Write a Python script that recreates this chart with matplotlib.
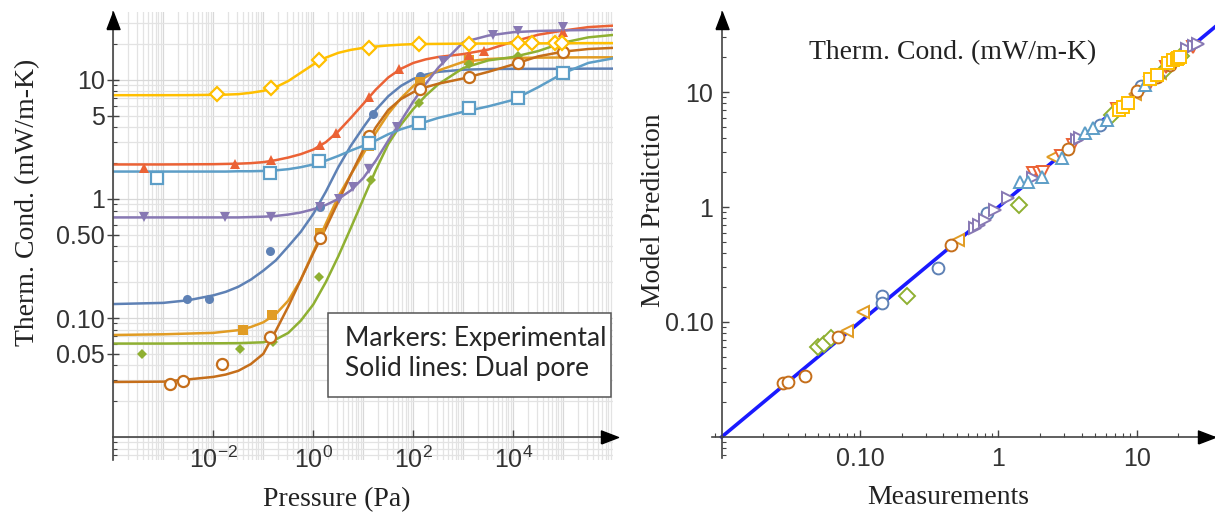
import numpy as np
import matplotlib.pyplot as plt
from matplotlib.patches import Rectangle
from matplotlib.ticker import FixedLocator, NullLocator, LogLocator, NullFormatter

plt.rcParams['mathtext.fontset'] = 'custom'
plt.rcParams['mathtext.rm'] = 'Liberation Sans'
plt.rcParams['mathtext.default'] = 'regular'

# series colours
c_blue = '#5E81B5'
c_orange = '#E19C24'
c_green = '#8FB032'
c_red = '#EB6235'
c_purple = '#8778B3'
c_brown = '#C56E1A'
c_lblue = '#5D9EC7'
c_yellow = '#FFBF00'

# experimental points: pressure (Pa) and conductivity (mW/m-K)
p_blue = [2.95e-3, 8.3e-3, 0.135, 1.35, 15.8, 135]
k_blue = [0.144, 0.144, 0.368, 0.85, 5.15, 10.8]
p_orange = [0.039, 0.148, 1.35, 13.2, 135, 1320]
k_orange = [0.080, 0.105, 0.52, 2.8, 9.7, 14.7]
p_green = [3.7e-4, 0.034, 0.155, 1.32, 14.1, 129, 1320, 1.26e4, 1.0e5]
k_green = [0.050, 0.0546, 0.0625, 0.22, 1.44, 6.37, 13.6, 15.9, 20.9]
p_red = [4.1e-4, 0.027, 0.141, 1.35, 2.8, 13.2, 52, 1320, 2630, 1.0e5]
k_red = [1.81, 1.96, 2.13, 2.84, 3.56, 7.24, 12.4, 16.2, 17.6, 25.5]
p_purple = [4.1e-4, 0.017, 0.141, 1.35, 3.2, 6.3, 13.2, 47, 390, 3900, 1.26e4, 1.0e5]
k_purple = [0.71, 0.70, 0.71, 0.86, 1.0, 1.25, 1.78, 4.0, 14.5, 23.9, 26.0, 27.7]
p_brown = [1.35e-3, 2.45e-3, 0.0148, 0.135, 1.35, 13.2, 135, 1320, 1.26e4, 1.0e5]
k_brown = [0.0277, 0.0296, 0.0408, 0.0697, 0.468, 3.38, 8.36, 10.5, 14.0, 17.3]
p_lblue = [7.4e-4, 0.135, 1.32, 13.2, 129, 1320, 1.26e4, 1.0e5]
k_lblue = [1.49, 1.66, 2.10, 2.94, 4.33, 5.78, 7.0, 11.5]
p_yellow = [0.012, 0.141, 1.32, 13.2, 129, 1320, 1.26e4, 2.4e4, 6.8e4, 9.5e4]
k_yellow = [7.6, 8.5, 14.6, 18.7, 20.1, 20.1, 20.3, 20.3, 20.4, 20.6]

# dual pore model curves, sampled at these pressure exponents
p_model_exp = [-4, -3, -2.5, -2, -1.75, -1.5, -1.25, -1, -0.75, -0.5,
               -0.25, 0, 0.25, 0.5, 0.75, 1, 1.25, 1.5, 1.75, 2,
               2.25, 2.5, 3, 3.5, 4, 4.5, 5, 5.5, 6]
model_blue = [0.131, 0.134, 0.141, 0.155, 0.166, 0.183, 0.210, 0.250, 0.305, 0.40,
              0.53, 0.75, 1.15, 1.85, 2.8, 4.0, 5.6, 7.3, 8.9, 10.2,
              11.1, 11.7, 12.2, 12.35, 12.4, 12.4, 12.4, 12.45, 12.45]
model_orange = [0.072, 0.073, 0.074, 0.075, 0.077, 0.079, 0.084, 0.092, 0.108, 0.140,
                0.21, 0.36, 0.62, 1.05, 1.6, 2.4, 3.6, 5.2, 7.0, 8.9,
                10.6, 12.0, 14.2, 15.0, 15.3, 15.4, 15.45, 15.5, 15.5]
model_green = [0.061, 0.061, 0.0612, 0.0613, 0.0614, 0.0615, 0.062, 0.0625, 0.066, 0.075,
               0.095, 0.13, 0.20, 0.33, 0.57, 1.0, 1.75, 2.9, 4.2, 5.7,
               7.4, 9.2, 12.6, 14.6, 15.6, 17.5, 20.6, 22.8, 23.9]
model_red = [1.95, 1.95, 1.955, 1.96, 1.97, 1.98, 2.0, 2.04, 2.12, 2.23,
             2.38, 2.6, 3.0, 3.7, 4.8, 6.3, 8.3, 10.5, 12.4, 13.9,
             14.9, 15.6, 16.5, 18.0, 21.0, 24.0, 26.0, 27.8, 28.6]
model_purple = [0.70, 0.70, 0.70, 0.70, 0.70, 0.70, 0.705, 0.71, 0.72, 0.74,
                0.77, 0.82, 0.89, 1.0, 1.18, 1.5, 2.1, 3.1, 4.5, 6.6,
                9.3, 12.7, 20.8, 23.6, 25.2, 25.8, 26.1, 26.3, 26.4]
model_brown = [0.029, 0.0292, 0.0305, 0.032, 0.0335, 0.036, 0.041, 0.050, 0.078, 0.125,
               0.21, 0.35, 0.57, 0.95, 1.6, 2.6, 4.0, 5.6, 6.9, 7.9,
               8.7, 9.3, 10.3, 11.7, 13.5, 15.8, 17.3, 18.2, 18.6]
model_lblue = [1.70, 1.70, 1.70, 1.70, 1.70, 1.71, 1.71, 1.72, 1.74, 1.78,
               1.85, 1.95, 2.1, 2.3, 2.55, 2.8, 3.1, 3.5, 3.85, 4.15,
               4.45, 4.8, 5.4, 6.0, 6.8, 8.7, 11.4, 13.9, 15.2]
model_yellow = [7.45, 7.45, 7.46, 7.5, 7.53, 7.6, 7.8, 8.1, 8.7, 9.8,
                11.5, 13.5, 15.4, 16.9, 17.9, 18.6, 19.1, 19.5, 19.8, 20.0,
                20.05, 20.1, 20.2, 20.25, 20.3, 20.3, 20.35, 20.4, 20.4]

# measured vs predicted (right panel)
meas_blue = [0.1435, 0.1435, 0.368, 0.824, 5.43, 10.8]
pred_blue = [0.168, 0.147, 0.293, 0.89, 5.16, 11.2]
meas_orange = [0.080, 0.1047, 0.514, 2.5, 9.7, 14.7]
pred_orange = [0.084, 0.123, 0.516, 2.74, 9.6, 14.5]
meas_green = [0.050, 0.055, 0.0614, 0.218, 1.40, 6.6, 13.6, 15.9, 20.9]
pred_green = [0.061, 0.0644, 0.072, 0.168, 1.04, 6.3, 13.4, 15.7, 20.6]
meas_red = [1.79, 1.96, 2.11, 2.84, 3.48, 7.24, 12.4, 16.2, 17.6, 25.7]
pred_red = [1.96, 1.97, 2.03, 2.8, 3.46, 7.1, 11.9, 16.5, 17.9, 24.8]
meas_purple = [0.68, 0.72, 0.80, 0.946, 1.18, 1.78, 3.69, 3.9, 14.5, 23.0, 26.0, 27.7]
pred_purple = [0.653, 0.70, 0.771, 0.942, 1.19, 1.79, 3.83, 3.95, 13.9, 23.5, 25.3, 26.1]
meas_brown = [0.0279, 0.0303, 0.040, 0.0697, 0.453, 3.2, 8.4, 10.0, 14.0, 17.3]
pred_brown = [0.0296, 0.030, 0.0339, 0.0736, 0.468, 3.2, 8.1, 10.3, 13.5, 17.3]
meas_lblue = [1.44, 1.65, 2.06, 2.87, 4.24, 4.86, 6.08, 11.5]
pred_lblue = [1.66, 1.66, 1.84, 2.65, 4.37, 4.84, 5.71, 11.4]
meas_yellow = [7.4, 8.0, 8.7, 12.5, 14.0, 16.9, 18.4, 19.4, 20.0, 20.6]
pred_yellow = [7.0, 7.45, 7.97, 13.1, 14.1, 17.8, 19.0, 19.4, 19.6, 20.2]

left_series = [
    (p_blue, k_blue, model_blue, c_blue, 'o', True, 6.5),
    (p_orange, k_orange, model_orange, c_orange, 's', True, 6.5),
    (p_green, k_green, model_green, c_green, 'D', True, 5.5),
    (p_red, k_red, model_red, c_red, '^', True, 7.5),
    (p_purple, k_purple, model_purple, c_purple, 'v', True, 7.5),
    (p_brown, k_brown, model_brown, c_brown, 'o', False, 8),
    (p_lblue, k_lblue, model_lblue, c_lblue, 's', False, 8),
    (p_yellow, k_yellow, model_yellow, c_yellow, 'D', False, 7.5),
]
right_series = [
    (meas_blue, pred_blue, c_blue, 'o'),
    (meas_orange, pred_orange, c_orange, '<'),
    (meas_green, pred_green, c_green, 'D'),
    (meas_red, pred_red, c_red, 'v'),
    (meas_purple, pred_purple, c_purple, '>'),
    (meas_brown, pred_brown, c_brown, 'o'),
    (meas_lblue, pred_lblue, c_lblue, '^'),
    (meas_yellow, pred_yellow, c_yellow, 's'),
]

W, H = 1215, 512
fig = plt.figure(figsize=(W / 100, H / 100), dpi=100)

axis_col = '#444444'
label_font = dict(family='Liberation Serif', size=20, color='#222222')

# arrowhead shapes, tip at the marker position
arrow_up = [(-6.5, -17), (0, 0), (6.5, -17), (-6.5, -17)]
arrow_right = [(-17, -6.5), (0, 0), (-17, 6.5), (-17, -6.5)]


def px_box(left, top, right, bottom):
    return [left / W, 1 - bottom / H, (right - left) / W, (bottom - top) / H]


def style_axes(ax, xorigin, yorigin):
    for side in ['top', 'right']:
        ax.spines[side].set_visible(False)
    ax.spines['left'].set_position(('data', xorigin))
    ax.spines['bottom'].set_position(('data', yorigin))
    for side in ['left', 'bottom']:
        ax.spines[side].set_color(axis_col)
        ax.spines[side].set_linewidth(1.2)
    ax.tick_params(which='major', direction='in', length=5, width=1,
                   color=axis_col, labelsize=18, labelcolor='#333333')
    ax.tick_params(which='minor', direction='in', length=3, width=0.8, color=axis_col)
    for lab in ax.get_xticklabels() + ax.get_yticklabels():
        lab.set_family('Liberation Sans')


# ---- left: conductivity vs pressure ----
ax1 = fig.add_axes(px_box(113.3, 12, 613.3, 460))
ax1.set_xscale('log')
ax1.set_yscale('log')
ax1.set_xlim(1e-4, 1e6)
ax1.set_ylim(10 ** -2.193, 10 ** 1.571)

for e in range(-4, 6):
    for s in range(1, 10):
        ax1.axvline(s * 10.0 ** e, color='#d8d8d8' if s == 1 else '#e3e3e3',
                    lw=0.9, zorder=0)
for e in range(-3, 2):
    for s in range(1, 10):
        ax1.axhline(s * 10.0 ** e, color='#d8d8d8' if s == 1 else '#e3e3e3',
                    lw=0.9, zorder=0)

p_model = 10.0 ** np.array(p_model_exp)
for p, k, model, col, mk, filled, ms in left_series:
    ax1.plot(p_model, model, color=col, lw=1.8, zorder=2)
    ax1.plot(p, k, linestyle='none', marker=mk, ms=ms, color=col,
             mfc=col if filled else 'white', mec=col,
             mew=0 if filled else 1.6, zorder=3)

ax1.xaxis.set_major_locator(FixedLocator([1e-2, 1, 1e2, 1e4]))
ax1.xaxis.set_minor_locator(NullLocator())
ax1.set_xticklabels(['$10^{-2}$', '$10^{0}$', '$10^{2}$', '$10^{4}$'])
ax1.yaxis.set_major_locator(FixedLocator([0.05, 0.1, 0.5, 1, 5, 10]))
ax1.set_yticklabels(['0.05', '0.10', '0.50', '1', '5', '10'])
ax1.yaxis.set_minor_locator(LogLocator(base=10, subs=np.arange(2, 10)))
ax1.yaxis.set_minor_formatter(NullFormatter())
style_axes(ax1, 1e-4, 0.01)
ax1.tick_params(axis='x', which='major', pad=7)
ax1.tick_params(axis='y', which='major', direction='inout', length=8, pad=2)

ax1.plot(1e-4, 1, marker=arrow_up, ms=24.5, color='black',
         transform=ax1.get_xaxis_transform(), clip_on=False, zorder=6)
ax1.plot(1.01, 0.01, marker=arrow_right, ms=24.5, color='black',
         transform=ax1.get_yaxis_transform(), clip_on=False, zorder=6)

ax1.add_patch(Rectangle((0.429, 0.141), 0.566, 0.187, transform=ax1.transAxes,
                        facecolor='white', edgecolor='#555555', lw=1.1, zorder=5))
ax1.text(0.463, 0.272, 'Markers: Experimental', transform=ax1.transAxes,
         family='Lato', size=19, color='#262626', va='center', zorder=6)
ax1.text(0.463, 0.205, 'Solid lines: Dual pore', transform=ax1.transAxes,
         family='Lato', size=19, color='#262626', va='center', zorder=6)

fig.text(336.7 / W, 1 - 500 / H, 'Pressure (Pa)', ha='center', va='center', **label_font)
fig.text(28 / W, 1 - 202 / H, 'Therm. Cond. (mW/m-K)', ha='center', va='center',
         rotation=90, **label_font)

# ---- right: model vs measurement ----
ax2 = fig.add_axes(px_box(711.7, 12, 1215, 458))
ax2.set_xscale('log')
ax2.set_yscale('log')
ax2.set_xlim(10 ** -2.072, 10 ** 1.566)
ax2.set_ylim(10 ** -2.183, 10 ** 1.696)

diag = [0.01, 10 ** 1.6]
ax2.plot(diag, diag, color='#1a1aff', lw=2.6, zorder=2)
for meas, pred, col, mk in right_series:
    ax2.plot(meas, pred, linestyle='none', marker=mk, ms=8.5, mfc='white',
             mec=col, mew=1.4, zorder=3)

ax2.xaxis.set_major_locator(FixedLocator([0.1, 1, 10]))
ax2.set_xticklabels(['0.10', '1', '10'])
ax2.yaxis.set_major_locator(FixedLocator([0.1, 1, 10]))
ax2.set_yticklabels(['0.10', '1', '10'])
for axis in [ax2.xaxis, ax2.yaxis]:
    axis.set_minor_locator(LogLocator(base=10, subs=np.arange(2, 10)))
    axis.set_minor_formatter(NullFormatter())
style_axes(ax2, 0.01, 0.01)
ax2.tick_params(axis='x', which='major', pad=7)
ax2.tick_params(axis='y', which='major', pad=6)

ax2.plot(0.01, 1, marker=arrow_up, ms=24.5, color='black',
         transform=ax2.get_xaxis_transform(), clip_on=False, zorder=6)
ax2.plot(1.0, 0.01, marker=arrow_right, ms=24.5, color='black',
         transform=ax2.get_yaxis_transform(), clip_on=False, zorder=6)

fig.text(953 / W, 1 - 53 / H, 'Therm. Cond. (mW/m-K)', ha='center', va='center', **label_font)
fig.text(948 / W, 1 - 498 / H, 'Measurements', ha='center', va='center', **label_font)
fig.text(654 / W, 1 - 210 / H, 'Model Prediction', ha='center', va='center',
         rotation=90, **label_font)

fig.savefig('out.png', dpi=100)
